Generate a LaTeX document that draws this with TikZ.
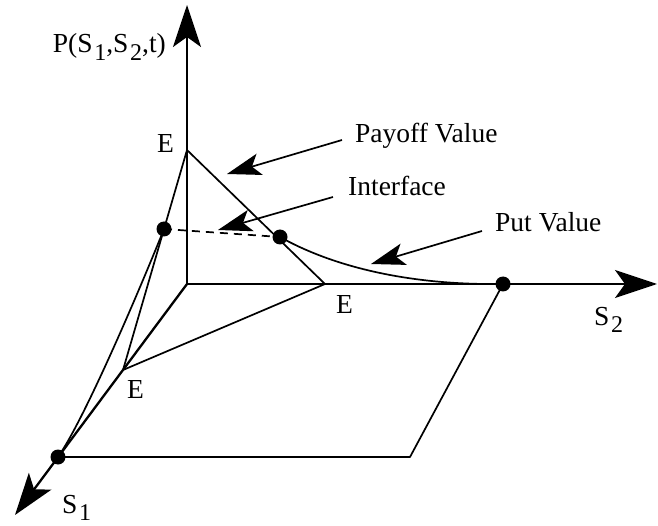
\documentclass[tikz,border=0pt]{standalone}
\usepackage{fontspec}
\setmainfont{Liberation Serif}
\usetikzlibrary{arrows.meta}
\newcommand\sbx[1]{\hspace{0.06em}\raisebox{-0.28em}{\fontsize{24}{26}\selectfont #1}}
\begin{document}
\begin{tikzpicture}[x=1pt,y=-1pt,
  ln/.style={line width=1.7pt, line join=round},
  ax/.style={line width=2.3pt, -{Stealth[length=42pt,width=28pt,inset=10pt]}},
  lead/.style={line width=1.7pt, -{Stealth[length=34pt,width=22pt,inset=8pt]}},
  lbl/.style={font=\fontsize{27.5}{30}\selectfont, inner sep=0pt},
  dot/.style={circle, fill=black, inner sep=0pt, minimum size=15pt}]
\useasboundingbox (0,0) rectangle (658,526);
% key points
\coordinate (O) at (187,284);
\coordinate (Ptop) at (187,5);
\coordinate (S2tip) at (657,284);
\coordinate (S1tip) at (15,515);
\coordinate (T) at (187,150);
\coordinate (R) at (325,284);
\coordinate (L) at (123,370);
\coordinate (A) at (164,229);
\coordinate (B) at (280,237);
\coordinate (C) at (503,284);
\coordinate (D) at (58,457);
\coordinate (F) at (410,457);
\coordinate (M) at (485,284);
% axes
\draw[ax] (O) -- (Ptop);
\draw[ax] (O) -- (S2tip);
\draw[ax] (O) -- (S1tip);
% payoff surface edges
\draw[ln] (T) -- (R);
\draw[ln] (T) -- (L);
\draw[ln] (L) -- (R);
% put value curves
\draw[ln] (A) .. controls (144,279) and (86,417) .. (D);
\draw[ln] (B) .. controls (330,265) and (400,283) .. (M);
% interface
\draw[ln, dash pattern=on 8pt off 6pt] (A) -- (B);
% base plane
\draw[ln] (D) -- (F) -- (C);
% dots
\foreach \p in {A,B,C,D} \node[dot] (dot\p) at (\p) {};
% labels
\node[lbl, anchor=base east] (lP) at (166,53) {P(S\sbx{1},S\sbx{2},t)};
\node[lbl, anchor=base east] (lEt) at (174,153) {E};
\node[lbl, anchor=base west] (lEr) at (336,313) {E};
\node[lbl, anchor=base west] (lEl) at (127,398) {E};
\node[lbl, anchor=base west] (lS2) at (594,325) {S\sbx{2}};
\node[lbl, anchor=base west] (lS1) at (62,513) {S\sbx{1}};
\node[lbl, anchor=base west] (lPay) at (355,143) {Payoff Value};
\node[lbl, anchor=base west] (lInt) at (348,196) {Interface};
\node[lbl, anchor=base west] (lPut) at (495,232) {Put Value};
% leaders
\coordinate (pa1) at (342,140); \coordinate (pa2) at (227,174);
\coordinate (in1) at (333,197); \coordinate (in2) at (218,230);
\coordinate (pu1) at (482,231); \coordinate (pu2) at (371,264);
\draw[lead] (pa1) -- (pa2);
\draw[lead] (in1) -- (in2);
\draw[lead] (pu1) -- (pu2);
\end{tikzpicture}
\end{document}
